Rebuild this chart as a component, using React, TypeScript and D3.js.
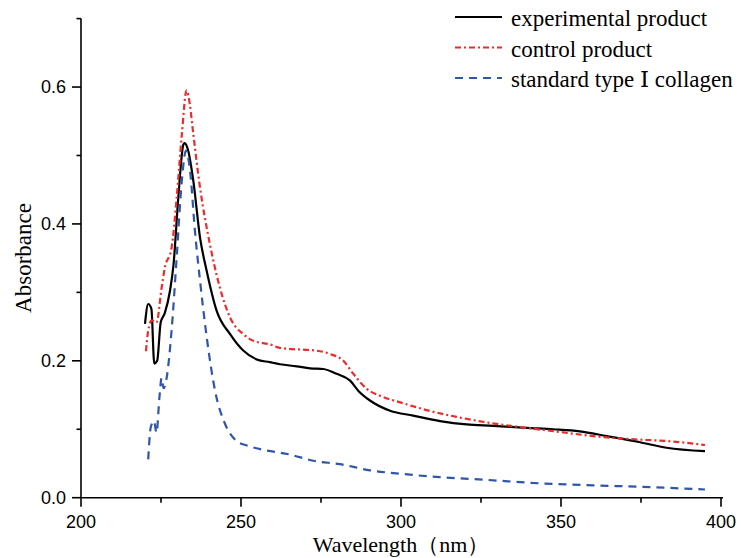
import React from "react";
import * as d3 from "d3";

const experimentalW = [220.0,221.0,222.0,222.9,223.8,224.9,226.2,227.8,228.9,230.4,232.0,232.4,233.5,235.1,237.2,239.3,242.4,246.6,250.7,254.9,259.0,262.2,267.4,271.6,275.7,279.9,284.1,286.7,290.3,296.6,303.8,312.2,320.5,328.8,339.3,347.6,355.9,364.3,374.7,383.0,395.0];
const experimentalA = [0.254,0.283,0.276,0.196,0.200,0.256,0.270,0.302,0.340,0.438,0.516,0.518,0.507,0.463,0.380,0.331,0.273,0.239,0.215,0.202,0.198,0.195,0.192,0.189,0.188,0.181,0.171,0.156,0.142,0.127,0.120,0.112,0.107,0.105,0.102,0.100,0.097,0.090,0.081,0.073,0.068];

const controlW = [220.3,221.0,222.1,223.6,225.2,226.2,228.3,229.9,231.5,233.0,234.0,235.1,237.2,240.3,243.4,246.6,250.7,254.0,259.0,262.2,274.7,277.8,282.0,285.1,289.3,293.4,300.7,308.0,317.4,326.8,339.3,349.7,360.1,370.5,385.1,395.0];
const controlA = [0.214,0.244,0.259,0.256,0.307,0.336,0.365,0.438,0.530,0.595,0.575,0.531,0.453,0.370,0.307,0.263,0.239,0.229,0.224,0.219,0.214,0.210,0.200,0.181,0.159,0.149,0.138,0.128,0.118,0.110,0.102,0.096,0.090,0.086,0.082,0.077];

const standardW = [221.0,221.8,222.8,223.6,224.5,225.2,225.8,226.8,228.3,229.9,231.5,232.8,234.1,235.6,237.2,239.3,241.9,245.0,248.6,252.0,255.9,265.3,272.6,280.9,290.3,299.7,312.2,326.8,343.4,360.1,374.7,395.0];
const standardA = [0.056,0.103,0.112,0.095,0.146,0.175,0.160,0.176,0.244,0.351,0.463,0.507,0.477,0.390,0.317,0.234,0.156,0.108,0.083,0.076,0.071,0.063,0.054,0.049,0.040,0.035,0.030,0.026,0.021,0.018,0.016,0.012];

const xMajorTicks = [200, 250, 300, 350, 400];
const xMinorTicks = [225, 275, 325, 375];
const yMajorTicks = [0.0, 0.2, 0.4, 0.6];
const yMinorTicks = [0.1, 0.3, 0.5, 0.7];

const seriesNames = ["experimental product", "control product", "standard type Ⅰ collagen"];

export default function App() {
  const x = d3.scaleLinear().domain([200, 400]).range([81, 721]);
  const y = d3.scaleLinear().domain([0, 0.7]).range([497.7, 18.6]);
  const line = d3
    .line<[number, number]>()
    .x((d) => x(d[0]))
    .y((d) => y(d[1]))
    .curve(d3.curveMonotoneX);
  const zip = (w: number[], a: number[]) => w.map((v, i) => [v, a[i]] as [number, number]);

  const series = [
    { name: seriesNames[0], data: zip(experimentalW, experimentalA), color: "#000000", dash: "none", width: 2.2 },
    { name: seriesNames[1], data: zip(controlW, controlA), color: "#ee2b2b", dash: "6,3,2,3", width: 2.2 },
    { name: seriesNames[2], data: zip(standardW, standardA), color: "#2f56a8", dash: "8,6", width: 2.2 },
  ];

  const serif = "'Liberation Serif', 'DejaVu Serif', 'Times New Roman', serif";
  const sans = "'Liberation Sans', Arial, sans-serif";

  return (
    <svg width={741} height={558} style={{ position: "absolute", left: 0, top: 0, background: "#fff" }}>
      <rect x={0} y={0} width={741} height={558} fill="#fff" />
      {series.map((s, i) => (
        <path key={i} d={line(s.data) || ""} fill="none" stroke={s.color} strokeWidth={s.width} strokeDasharray={s.dash} />
      ))}
      {/* axes */}
      <line x1={81} x2={723} y1={y(0)} y2={y(0)} stroke="#000" strokeWidth={1.6} />
      <line x1={81} x2={81} y1={y(0.7)} y2={y(0)} stroke="#000" strokeWidth={1.6} />
      {xMajorTicks.map((t) => (
        <g key={"xm" + t}>
          <line x1={x(t)} x2={x(t)} y1={y(0)} y2={y(0) + 9} stroke="#000" strokeWidth={1.6} />
          <text x={x(t)} y={528} textAnchor="middle" fontFamily={sans} fontSize={18}>{t}</text>
        </g>
      ))}
      {xMinorTicks.map((t) => (
        <line key={"xn" + t} x1={x(t)} x2={x(t)} y1={y(0)} y2={y(0) + 5} stroke="#000" strokeWidth={1.6} />
      ))}
      {yMajorTicks.map((t) => (
        <g key={"ym" + t}>
          <line x1={81} x2={72} y1={y(t)} y2={y(t)} stroke="#000" strokeWidth={1.6} />
          <text x={66} y={y(t)} dy="0.35em" textAnchor="end" fontFamily={sans} fontSize={18}>{t.toFixed(1)}</text>
        </g>
      ))}
      {yMinorTicks.map((t) => (
        <line key={"yn" + t} x1={81} x2={76.5} y1={y(t)} y2={y(t)} stroke="#000" strokeWidth={1.6} />
      ))}
      <text x={401} y={552} textAnchor="middle" fontFamily={serif} fontSize={22}>Wavelength（nm）</text>
      <text transform={`translate(31, 258) rotate(-90)`} textAnchor="middle" fontFamily={serif} fontSize={23}>Absorbance</text>
      {/* legend */}
      {series.map((s, i) => (
        <g key={"lg" + i}>
          <line x1={455} x2={502} y1={17 + i * 30.5} y2={17 + i * 30.5} stroke={s.color} strokeWidth={2.2} strokeDasharray={s.dash} />
          <text x={511} y={26 + i * 30.5} fontFamily={serif} fontSize={23}>{s.name}</text>
        </g>
      ))}
    </svg>
  );
}
